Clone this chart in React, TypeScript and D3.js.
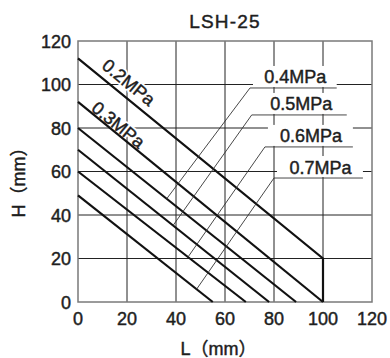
import React from "react";
import * as d3 from "d3";

const title = "LSH-25";
const xTicks = [0, 20, 40, 60, 80, 100, 120];
const yTicks = [0, 20, 40, 60, 80, 100, 120];
const xLabel = "L（mm）";
const yLabel = "H（mm）";

// pressure lines (H at L=0, end point)
const pressures = ["0.2MPa", "0.3MPa", "0.4MPa", "0.5MPa", "0.6MPa", "0.7MPa"];
const startH = [112, 92, 80, 70, 60, 49];
const endL = [100, 100, 89, 78, 68.5, 55];
const endH = [20, 0, 0, 0, 0, 0];

// rotated labels for first two lines (data coords of label centre)
const rotLabelL = [20.6, 16.4];
const rotLabelH = [100.9, 81.4];

// callout labels for lines 3..6
const calloutLine = [2, 3, 4, 5];
const calloutTargetL = [36.2, 38.8, 44.9, 48.4];
const calloutElbowL = [70.2, 70.9, 76.3, 80];
const calloutElbowH = [98.4, 86, 71.3, 57];
const calloutEndL = [105.6, 109.7, 112.2, 116.3];

const W = 390;
const H = 358;
const FONT = "'Liberation Sans', Arial, 'Noto Sans CJK SC', sans-serif";
const INK = "#1e1e1e";
const THICK = 0.45;

export default function App() {
  const x = d3.scaleLinear().domain([0, 120]).range([78, 372]);
  const y = d3.scaleLinear().domain([0, 120]).range([302, 41]);
  const line = d3
    .line<[number, number]>()
    .x((d) => x(d[0]))
    .y((d) => y(d[1]));

  const series = pressures.map((p, i) => {
    const pts: [number, number][] = [
      [0, startH[i]],
      [endL[i], endH[i]],
    ];
    if (endH[i] > 0) pts.push([endL[i], 0]);
    return pts;
  });

  const hOnLine = (i: number, L: number) =>
    startH[i] + ((endH[i] - startH[i]) * L) / endL[i];

  const angle = (Math.atan2(y(endH[0]) - y(startH[0]), x(endL[0]) - x(0)) * 180) / Math.PI;

  const txt = { fill: INK, stroke: INK, strokeWidth: THICK };

  return (
    <svg
      width={W}
      height={H}
      style={{ position: "absolute", left: 0, top: 0, background: "#fff" }}
      fontFamily={FONT}
    >
      <rect x={0} y={0} width={W} height={H} fill="#fff" />
      {/* grid */}
      {xTicks.slice(1, -1).map((t) => (
        <line key={"gx" + t} x1={x(t)} x2={x(t)} y1={y(0)} y2={y(120)} stroke="#222" strokeWidth={1} />
      ))}
      {yTicks.slice(1, -1).map((t) => (
        <line key={"gy" + t} x1={x(0)} x2={x(120)} y1={y(t)} y2={y(t)} stroke="#222" strokeWidth={1} />
      ))}

      {/* callout backgrounds */}
      {calloutLine.map((li, k) => {
        const ux0 = x(calloutElbowL[k]);
        const ux1 = x(calloutEndL[k]);
        const uy = y(calloutElbowH[k]);
        return (
          <rect key={"bg" + k} x={ux0 + 3} y={uy - 22} width={ux1 - ux0 - 3} height={21} fill="#fff" />
        );
      })}

      {/* frame */}
      <rect x={x(0)} y={y(120)} width={x(120) - x(0)} height={y(0) - y(120)} fill="none" stroke="#7a7a7a" strokeWidth={1.5} />

      {/* rotated label halos */}
      {rotLabelL.map((L, i) => (
        <text
          key={"rh" + i}
          x={x(L)}
          y={y(rotLabelH[i])}
          transform={`rotate(${angle} ${x(L)} ${y(rotLabelH[i])})`}
          textAnchor="middle"
          dominantBaseline="central"
          fontSize={18}
          fill="#fff"
          stroke="#fff"
          strokeWidth={4}
          strokeLinejoin="round"
        >
          {pressures[i]}
        </text>
      ))}

      {/* pressure lines */}
      {series.map((pts, i) => (
        <path key={"s" + i} d={line(pts) || ""} fill="none" stroke="#111" strokeWidth={2.2} />
      ))}

      {/* rotated labels */}
      {rotLabelL.map((L, i) => (
        <text
          key={"rl" + i}
          x={x(L)}
          y={y(rotLabelH[i])}
          transform={`rotate(${angle} ${x(L)} ${y(rotLabelH[i])})`}
          textAnchor="middle"
          dominantBaseline="central"
          fontSize={18}
          {...txt}
        >
          {pressures[i]}
        </text>
      ))}

      {/* callouts */}
      {calloutLine.map((li, k) => {
        const tx = x(calloutTargetL[k]);
        const ty = y(hOnLine(li, calloutTargetL[k]));
        const ux0 = x(calloutElbowL[k]);
        const ux1 = x(calloutEndL[k]);
        const uy = y(calloutElbowH[k]);
        return (
          <g key={"co" + k}>
            <polyline
              points={`${tx},${ty} ${ux0},${uy} ${ux1},${uy}`}
              fill="none"
              stroke="#333"
              strokeWidth={0.9}
            />
            <text x={(ux0 + ux1) / 2 + 2} y={uy - 4.5} textAnchor="middle" fontSize={18} {...txt}>
              {pressures[li]}
            </text>
          </g>
        );
      })}

      {/* ticks labels */}
      {yTicks.map((t) => (
        <text key={"yt" + t} x={71} y={y(t) + 6.5} textAnchor="end" fontSize={18} {...txt}>
          {t}
        </text>
      ))}
      {xTicks.map((t) => (
        <text key={"xt" + t} x={x(t)} y={325} textAnchor="middle" fontSize={18} {...txt}>
          {t}
        </text>
      ))}

      {/* titles */}
      <text x={225} y={28} textAnchor="middle" fontSize={19} letterSpacing={1.2} {...txt}>
        {title}
      </text>
      <text x={218.5} y={355} textAnchor="middle" fontSize={18} {...txt}>
        {xLabel}
      </text>
      <text
        x={25}
        y={178}
        transform="rotate(-90 25 178)"
        textAnchor="middle"
        fontSize={18}
        {...txt}
      >
        {yLabel}
      </text>
    </svg>
  );
}
